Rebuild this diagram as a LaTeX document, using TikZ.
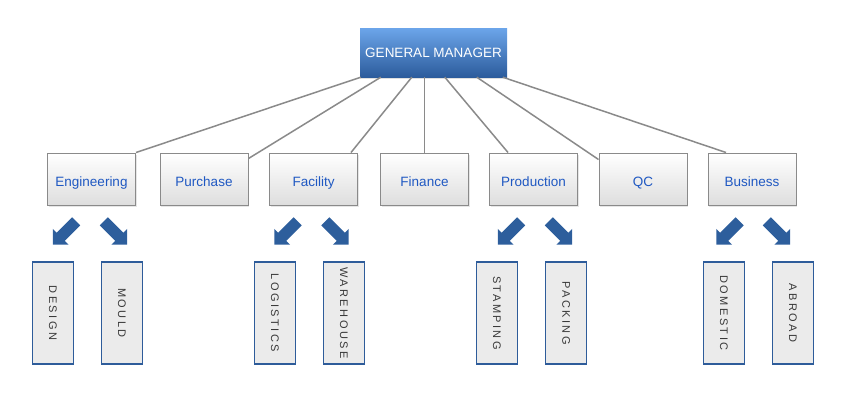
\documentclass[tikz,border=0pt]{standalone}
\usepackage{fontspec}
\setmainfont{Liberation Sans}
\newfontfamily\spacedfont[LetterSpace=22]{Liberation Sans}
\usetikzlibrary{calc,shadows,shapes.arrows}

\definecolor{gmtop}{HTML}{6CA5EA}
\definecolor{gmbottom}{HTML}{2C5C9C}
\definecolor{deptblue}{HTML}{1F58C2}
\definecolor{linkgray}{HTML}{8A8A8A}
\definecolor{unitblue}{HTML}{2E5C9A}
\definecolor{arrowblue}{HTML}{2D5E9C}

\begin{document}
\begin{tikzpicture}[x=1pt,y=-1pt,
    head/.style={rectangle,top color=gmtop,bottom color=gmbottom,
      text=white,minimum width=147pt,minimum height=49pt,inner sep=0pt,
      font=\fontsize{13.5}{16}\selectfont,
      drop shadow={shadow xshift=0pt,shadow yshift=-2pt,opacity=.25}},
    dept/.style={rectangle,draw=linkgray,line width=1pt,
      top color=white,bottom color=black!13,text=deptblue,
      minimum width=88pt,minimum height=52pt,inner sep=0pt,
      text height=14pt,text depth=0pt,
      font=\fontsize{13.5}{16}\selectfont,
      drop shadow={shadow xshift=1pt,shadow yshift=-2pt,opacity=.2}},
    unit/.style={rectangle,draw=unitblue,line width=1.3pt,fill=black!8,
      text=black!78,rotate=-90,minimum width=102pt,minimum height=41pt,
      inner sep=0pt,font=\spacedfont\fontsize{11}{13}\selectfont},
    pointer/.style={single arrow,fill=arrowblue,minimum height=33pt,
      inner xsep=0pt,inner ysep=5.5pt,single arrow head extend=5.5pt},
    link/.style={draw=linkgray,line width=1.5pt}]

  \useasboundingbox (0,0) rectangle (850,408);

  % top
  \node[head] (gm) at (433.5, 52.5) {GENERAL MANAGER};

  % departments
  \node[dept] (eng)  at ( 91.5, 179) {Engineering};
  \node[dept] (pur)  at (204.0, 179) {Purchase};
  \node[dept] (fac)  at (313.5, 179) {Facility};
  \node[dept] (fin)  at (424.5, 179) {Finance};
  \node[dept] (prod) at (533.5, 179) {Production};
  \node[dept] (qc)   at (643.0, 179) {QC};
  \node[dept] (bus)  at (752.0, 179) {Business};

  \path[link]
  ([xshift=1pt]gm.south west)   edge (eng.north east)
  ([xshift=21pt]gm.south west)  edge ([yshift=-6pt]pur.north east)
  ([xshift=52pt]gm.south west)  edge ([xshift=-7pt]fac.north east)
  (gm.south -| fin.north)       edge (fin.north)
  ([xshift=85pt]gm.south west)  edge ([xshift=-25.5pt]prod.north)
  ([xshift=117pt]gm.south west) edge ([yshift=-7pt]qc.north west)
  ([xshift=143pt]gm.south west) edge ([xshift=-26pt]bus.north)
  ;

  % arrows
  \node[pointer,rotate=-135] (engl)  at ( 66.5, 231) {};
  \node[pointer,rotate=-45]  (engr)  at (113.5, 231) {};
  \node[pointer,rotate=-135] (facl)  at (288.0, 231) {};
  \node[pointer,rotate=-45]  (facr)  at (335.0, 231) {};
  \node[pointer,rotate=-135] (prodl) at (511.5, 231) {};
  \node[pointer,rotate=-45]  (prodr) at (558.5, 231) {};
  \node[pointer,rotate=-135] (busl)  at (730.0, 231) {};
  \node[pointer,rotate=-45]  (busr)  at (776.5, 231) {};

  % units
  \node[unit] (design)    at ( 52.8, 313) {DESIGN};
  \node[unit] (mould)     at (122.0, 313) {MOULD};
  \node[unit] (logistics) at (275.0, 313) {LOGISTICS};
  \node[unit] (warehouse) at (343.8, 313) {WAREHOUSE};
  \node[unit] (stamping)  at (497.0, 313) {STAMPING};
  \node[unit] (packing)   at (566.2, 313) {PACKING};
  \node[unit] (domestic)  at (723.8, 313) {DOMESTIC};
  \node[unit] (abroad)    at (793.0, 313) {ABROAD};
\end{tikzpicture}
\end{document}
